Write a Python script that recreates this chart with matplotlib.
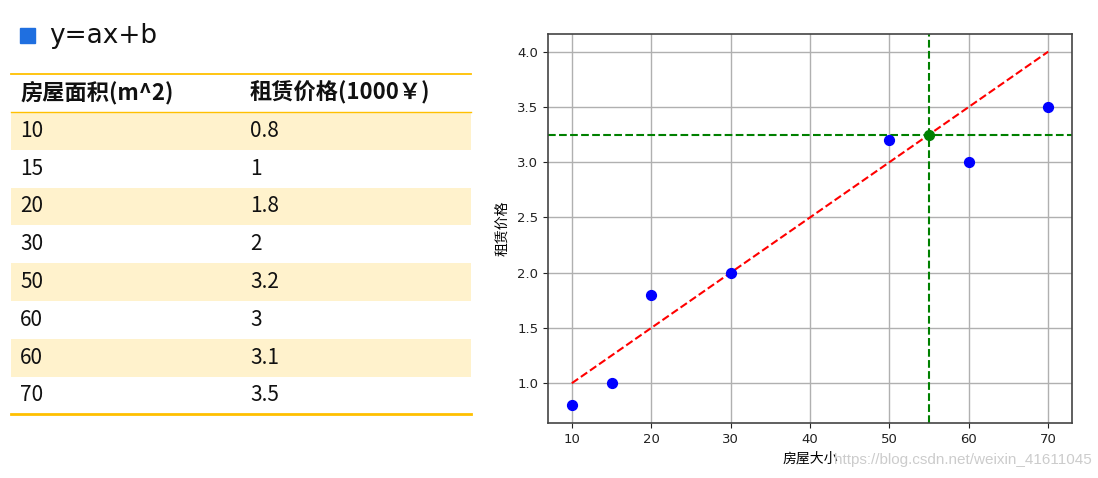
import matplotlib
matplotlib.use("Agg")
import matplotlib.pyplot as plt
from matplotlib.patches import Rectangle
import numpy as np

plt.rcParams['font.family'] = ['Noto Sans CJK SC', 'DejaVu Sans']

# ---- data ----
title_text = "y=ax+b"
table_header = ["房屋面积(m^2)", "租赁价格(1000￥)"]
table_area = ["10", "15", "20", "30", "50", "60", "60", "70"]
table_price = ["0.8", "1", "1.8", "2", "3.2", "3", "3.1", "3.5"]

scatter_x = [10, 15, 20, 30, 50, 60, 70]
scatter_y = [0.8, 1.0, 1.8, 2.0, 3.2, 3.0, 3.5]
fit_a = 0.05
fit_b = 0.5
fit_x = [10, 70]
pred_x = 55
x_label = "房屋大小"
y_label = "租赁价格"
watermark = "https://blog.csdn.net/weixin_41611045"

W, H = 1098, 478
fig = plt.figure(figsize=(W / 100, H / 100), dpi=100)

# ---- left: table drawn in pixel space ----
tab = fig.add_axes([0, 0, 1, 1])
tab.set_xlim(0, W)
tab.set_ylim(H, 0)
tab.axis('off')

orange = '#FFC000'
shade = '#FFF2CC'
tab.add_patch(Rectangle((20, 28), 15, 15, color='#1F6FE0'))
tab.text(49, 36, title_text, fontsize=19, va='center', ha='left', color='#111111',
         family='DejaVu Sans')

x0, x1 = 11, 471
col2 = 250
header_top, header_bot = 74, 112
row_h = 37.8
tab.plot([x0, x1], [header_top, header_top], color=orange, lw=1.3)
tab.text(20, (header_top + header_bot) / 2, table_header[0], fontsize=16, fontweight='bold',
         va='center', ha='left', color='#111111')
tab.text(col2, (header_top + header_bot) / 2, table_header[1], fontsize=16, fontweight='bold',
         va='center', ha='left', color='#111111')
for i, (a, p) in enumerate(zip(table_area, table_price)):
    top = header_bot + i * row_h
    if i % 2 == 0:
        tab.add_patch(Rectangle((x0, top), x1 - x0, row_h, color=shade, lw=0))
    tab.text(20, top + row_h / 2, a, fontsize=15, va='center', ha='left', color='#111111')
    tab.text(col2, top + row_h / 2, p, fontsize=15, va='center', ha='left', color='#111111')
tab.plot([x0, x1], [header_bot, header_bot], color=orange, lw=1.0)
bottom = header_bot + len(table_area) * row_h
tab.plot([x0, x1], [bottom, bottom], color=orange, lw=2.0)

# ---- right: scatter plot ----
ax = fig.add_axes([548 / W, 1 - 423 / H, (1072 - 548) / W, (423 - 34) / H])
ax.scatter(scatter_x, scatter_y, color='blue', s=50, zorder=3)
fx = np.array(fit_x, dtype=float)
ax.plot(fx, fit_a * fx + fit_b, 'r--', lw=1.5, zorder=2)
pred_y = fit_a * pred_x + fit_b
ax.axvline(pred_x, color='green', ls='--', lw=1.5, zorder=2)
ax.axhline(pred_y, color='green', ls='--', lw=1.5, zorder=2)
ax.scatter([pred_x], [pred_y], color='green', s=50, zorder=4)
ax.set_xlim(7, 73)
ax.set_ylim(0.64, 4.16)
ax.set_xticks([10, 20, 30, 40, 50, 60, 70])
ax.set_yticks([1.0, 1.5, 2.0, 2.5, 3.0, 3.5, 4.0])
ax.grid(True, color='#b0b0b0', lw=1.0)
ax.set_axisbelow(True)
for s in ax.spines.values():
    s.set_color('#444444')
    s.set_linewidth(1.2)
ax.tick_params(labelsize=9.5, colors='#222222')
for lbl in ax.get_xticklabels() + ax.get_yticklabels():
    lbl.set_family('DejaVu Sans')
ax.set_xlabel(x_label, fontsize=10, labelpad=4)
ax.set_ylabel(y_label, fontsize=10, labelpad=6)

fig.text(1092 / W, 1 - 460 / H, watermark, fontsize=11, color='#cccccc',
         ha='right', va='center', family='Liberation Sans')

fig.savefig("out.png", dpi=100)
